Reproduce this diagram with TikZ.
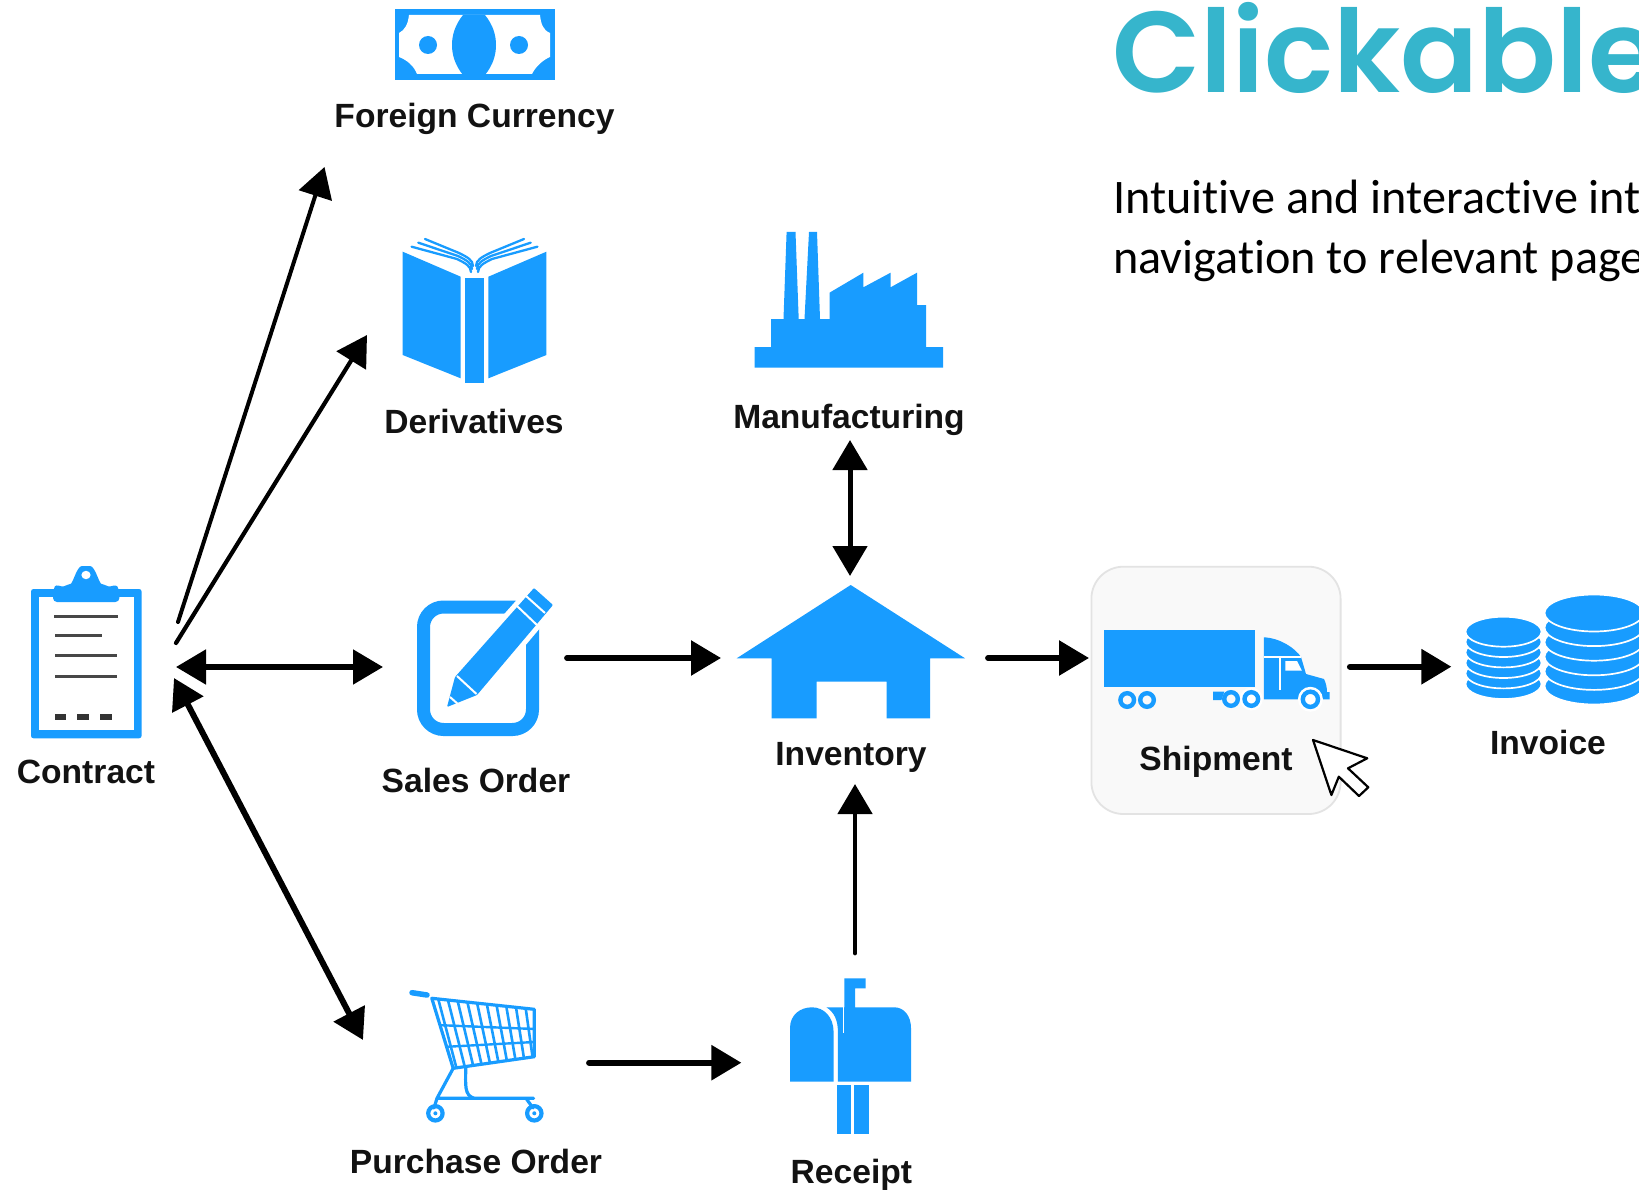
\documentclass[tikz,border=0pt]{standalone}
\usepackage{fontspec}
\usetikzlibrary{arrows.meta}
\setmainfont{Liberation Sans}
\newfontfamily\labfont{Liberation Sans}
\newfontfamily\bodyfont[Ligatures=NoCommon]{Carlito}
\newfontfamily\titlefont{Poppins SemiBold}
\definecolor{iconblue}{HTML}{189CFF}
\definecolor{titleteal}{HTML}{36B5CC}
\tikzset{
  iconfill/.style={fill=iconblue,draw=none},
  whitefill/.style={fill=white,draw=none},
  iconline/.style={draw=iconblue,line cap=round,line join=round},
  whiteline/.style={draw=white,line cap=butt},
  labeltext/.style={anchor=base,inner sep=0pt,text=black!93,font=\labfont\bfseries\fontsize{33.6}{33.6}\selectfont},
  bodytext/.style={anchor=base west,inner sep=0pt,text=black,font=\bodyfont\fontsize{48.2}{48.2}\selectfont},
  flow/.style={draw=black,line width=#1,line cap=round,-{Triangle[length=30pt,width=34pt]}},
  flow/.default=5pt,
  twoway/.style={draw=black,line width=#1,{Triangle[length=30pt,width=34pt]}-{Triangle[length=30pt,width=34pt]}},
  twoway/.default=5pt,
  coinlayer/.style={fill=iconblue,draw=white,line width=1.7pt},
}
\begin{document}
\begin{tikzpicture}[x=1pt,y=-1pt]
\useasboundingbox (0,0) rectangle (1639,1193);
\fill[white] (0,0) rectangle (1639,1193);
\begin{scope}
\clip (0,0) rectangle (1639,1193);

% title and text
\node[anchor=base west,inner sep=0pt,text=titleteal,font=\titlefont\fontsize{115}{115}\selectfont] (title) at (1112,93) {Clickable};
\node[bodytext] (bodya) at (1113,214) {Intuitive and interactive int};
\node[bodytext] (bodyb) at (1113,273) {navigation to relevant page};

% shipment highlight box
\draw[fill=black!2.5,draw=black!11,line width=1.8pt,rounded corners=32pt] (1091.4,566.7) rectangle (1340.6,814);

% --- contract clipboard
\fill[iconfill,rounded corners=2.5pt] (31,589) rectangle (141.6,738.3);
\fill[whitefill] (39,597) rectangle (134,730);
\fill[iconfill,rounded corners=4pt] (53,602) -- (53,590) .. controls (56,584) and (62,587) .. (67,585) .. controls (73,583) and (77,566) .. (86,566) .. controls (95,566) and (99,583) .. (105,585) .. controls (110,587) and (116,584) .. (119.4,590) -- (119.4,602) -- cycle;
\fill[whitefill] (86,575) ellipse [x radius=4.6, y radius=4.2];
\foreach \ya/\xa/\xb in {616/54/118,635/55/102,655/55/117,676/55/117}{
  \draw[draw=black!72,line width=3pt] (\xa,\ya) -- (\xb,\ya);
}
\foreach \xa/\xb in {55/66,77/89,100/112}{
  \fill[black!80] (\xa,713.5) rectangle (\xb,719.5);
}
\node[labeltext] (contract) at (86,783) {Contract};

% --- sales order
\draw[draw=iconblue,line width=13pt,rounded corners=20pt] (423.5,607) rectangle (532.5,729.5);
\draw[draw=white,line width=10pt,line join=round,fill=white] (447,707) -- (455,677) -- (534,588) -- (553,605) -- (477,695) -- cycle;
\fill[iconfill,rounded corners=1pt] (447,707) -- (455,677) -- (534,588) -- (553,605) -- (477,695) -- cycle;
\draw[whiteline,line width=2pt] (457,676) -- (476.5,694);
\draw[whiteline,line width=2pt] (450,697) -- (459,705);
\draw[whiteline,line width=2pt] (517,606) -- (538,626);
\draw[whiteline,line width=2pt] (526,596) -- (545,613);
\node[labeltext] (sales) at (476,792.7) {Sales Order};

% --- foreign currency
\fill[iconfill] (395,9.3) rectangle (554.5,80);
\fill[whitefill] (409,15) -- (463,15) -- (485,15) -- (540,15) .. controls (541,24) and (543,30) .. (550,33) -- (550,57) .. controls (543,60) and (536,66) .. (532,74) -- (417,74) .. controls (414,66) and (407,60) .. (399,57) -- (399,33) .. controls (405,30) and (408,24) .. (409,15) -- cycle;
\fill[iconfill] (463,15) .. controls (455,25) and (452,35) .. (452,45) .. controls (452,55) and (455,65) .. (463,75) -- (485,75) .. controls (493,65) and (496,55) .. (496,45) .. controls (496,35) and (493,25) .. (485,15) -- cycle;
\fill[iconfill] (428,45) ellipse [x radius=9, y radius=9];
\fill[iconfill] (519,45) ellipse [x radius=9, y radius=9];
\node[labeltext] (foreign) at (474.5,128) {Foreign Currency};

% --- derivatives book
\fill[iconfill] (402.7,251.7) -- (460.7,276.7) -- (460.7,378.3) -- (402.7,355) -- cycle;
\fill[iconfill] (465,278) rectangle (484,383);
\fill[iconfill] (488.4,276.7) -- (546.4,251.7) -- (546.4,355) -- (488.4,378.3) -- cycle;
\foreach \xs/\ys/\xe/\ye in {411.6/246.7/471/272,418.3/242.7/472/269,425/239/473/266}{
  \draw[iconline,line width=2.3pt] (\xs,\ys) -- ({\xe-14},{\ye-13}) .. controls ({\xe-6},{\ye-9}) and (\xe,{\ye-6}) .. (\xe,\ye);
}
\foreach \xs/\ys/\xe/\ye in {537.4/246.7/478/272,530.7/242.7/477/269,524/239/476/266}{
  \draw[iconline,line width=2.3pt] (\xs,\ys) -- ({\xe+14},{\ye-13}) .. controls ({\xe+6},{\ye-9}) and (\xe,{\ye-6}) .. (\xe,\ye);
}
\node[labeltext] (deriv) at (474,433) {Derivatives};

% --- manufacturing factory
\fill[iconfill] (754.5,347) -- (771,347) -- (771,319) -- (783.5,319) -- (786.6,232) -- (795.5,232) -- (798.7,319) -- (804.5,319) -- (809,232) -- (817,232) -- (820,319) -- (829.5,319) -- (829.5,292.7) -- (863.4,272.7) -- (863.4,287.3) -- (890.6,272.7) -- (890.6,287.3) -- (917,272.7) -- (917,305) -- (926,305) -- (926,347) -- (943,347) -- (943,367.7) -- (754.5,367.7) -- cycle;
\node[labeltext] (manu) at (849,428) {Manufacturing};

% --- inventory house
\fill[iconfill] (850.7,585) -- (965,658.3) -- (930,658.3) -- (930,718.3) -- (886.7,718.3) -- (886.7,681.7) -- (816.7,681.7) -- (816.7,718.3) -- (771.7,718.3) -- (771.7,658.3) -- (736.7,658.3) -- cycle;
\node[labeltext] (inv) at (851,765) {Inventory};

% --- shipment truck
\fill[iconfill] (1103.6,630) rectangle (1255,687.3);
\fill[iconfill] (1263.8,637.3) .. controls (1280,638) and (1295,648) .. (1301,657) -- (1306,674) -- (1324,679) .. controls (1326,683) and (1327,688) .. (1327,692) -- (1329.6,692) -- (1329.6,699.3) -- (1263.8,699.3) -- cycle;
\draw[whiteline,line width=1.8pt] (1263.8,657.3) -- (1301,657.3);
\draw[whiteline,line width=1.8pt] (1279.7,657.3) -- (1279.7,690);
\fill[whitefill] (1285.3,661) -- (1297,661) -- (1301.9,670.7) -- (1285.3,670.7) -- cycle;
\fill[iconfill] (1213,691.7) -- (1224.3,691.7) -- (1221.4,700) -- (1213,700) -- cycle;
\fill[whitefill] (1310.4,699.3) circle [radius=12.5];
\fill[whitefill] (1251.3,699) circle [radius=11.5];
\foreach \cx/\cy/\rr in {1310.4/699.3/7.6,1231/699/6.8,1251.3/699/6.8,1127.2/700/6.8,1147/700/6.8}{
  \draw[draw=iconblue,line width=4.4pt] (\cx,\cy) circle [radius=\rr];
}
\node[labeltext] (ship) at (1216,770) {Shipment};

% --- invoice coins
\foreach \cy in {684,673.4,663,652.4,642,631.7}{
  \draw[coinlayer] (1503.5,\cy) ellipse [x radius=38, y radius=15];
}
\foreach \cy in {686,671.4,656.8,642.2,627.6,613}{
  \draw[coinlayer] (1594,\cy) ellipse [x radius=49.5, y radius=18.5];
}
\node[labeltext] (invoice) at (1548,754) {Invoice};

% --- purchase cart
\draw[iconline,line width=5.5pt] (412,992.7) -- (427,995);
\draw[iconline,line width=3.2pt,fill=white] (431.8,998.3) -- (534.3,1009.3) -- (534.3,1056.7) -- (453.2,1068.3) -- cycle;
\begin{scope}
\clip (431.8,998.3) -- (534.3,1009.3) -- (534.3,1056.7) -- (453.2,1068.3) -- cycle;
\foreach \i in {0,...,9}{
  \draw[iconline,line width=2.6pt] ({438.5+\i*9.7},{1000+\i*1}) -- ({457+\i*8.6},1070);
}
\draw[iconline,line width=2.4pt] (436,1025) -- (534.3,1029);
\draw[iconline,line width=2.4pt] (443,1047) -- (534.3,1042);
\end{scope}
\draw[iconline,line width=3.2pt] (453.2,1068.3) -- (437,1098.3) -- (533.6,1098.3);
\draw[iconline,line width=3.2pt] (465.7,1068) .. controls (465.7,1085) and (464,1095) .. (474,1098.3);
\draw[iconline,line width=3.2pt] (437,1098.3) -- (434,1108);
\draw[iconline,line width=3.2pt] (526,1098.3) -- (533,1108);
\draw[iconline,line width=4.2pt] (435.4,1113.3) circle [radius=7.2];
\draw[iconline,line width=4.2pt] (534.3,1113.3) circle [radius=7.2];
\fill[iconblue] (435.4,1113.3) circle [radius=2];
\fill[iconblue] (534.3,1113.3) circle [radius=2];
\node[labeltext] (purchase) at (476,1173) {Purchase Order};

% --- receipt mailbox
\fill[iconfill] (790,1081.7) -- (790,1028) .. controls (790,1015) and (800,1007.3) .. (812,1007.3) .. controls (824,1007.3) and (833.6,1017) .. (833.6,1032) -- (833.6,1081.7) -- cycle;
\fill[iconfill] (826.4,1007.3) -- (844.3,1007.3) -- (844.3,978.3) -- (865.7,978.3) -- (865.7,988.3) -- (855,988.3) -- (855,1007.3) -- (894.3,1007.3) .. controls (904,1007.3) and (911,1016) .. (911,1028) -- (911,1081.7) -- (837.9,1081.7) -- (837.9,1031.7) .. controls (837.9,1020) and (834,1012) .. (826.4,1007.3) -- cycle;
\draw[whiteline,line width=1.5pt] (843.6,1007.3) -- (843.6,1033);
\fill[iconfill] (837.1,1085) rectangle (851.4,1134);
\fill[iconfill] (854.3,1085) rectangle (868.6,1134);
\node[labeltext] (receipt) at (851.4,1183) {Receipt};

% --- connector ends
\coordinate (cFa) at (178,622);
\coordinate (cFb) at (324.5,167);
\coordinate (cDa) at (176,643);
\coordinate (cDb) at (367,335);
\coordinate (cSa) at (176,667);
\coordinate (cSb) at (383,667);
\coordinate (cPa) at (174,678);
\coordinate (cPb) at (363,1040);
\coordinate (sIa) at (567,658);
\coordinate (sIb) at (721,658);
\coordinate (iSa) at (988,658);
\coordinate (iSb) at (1089,658);
\coordinate (sVa) at (1350,666.7);
\coordinate (sVb) at (1451.4,666.7);
\coordinate (mIa) at (850,440);
\coordinate (mIb) at (850,576);
\coordinate (rIa) at (855,953);
\coordinate (rIb) at (855,784);
\coordinate (pRa) at (589,1062.7);
\coordinate (pRb) at (741.4,1062.7);

% --- connectors
\draw[flow=4pt] (cFa) -- (cFb);
\draw[flow=4.2pt] (cDa) -- (cDb);
\draw[twoway=5.2pt] (cSa) -- (cSb);
\draw[twoway=6pt] (cPa) -- (cPb);
\draw[flow=5.8pt] (sIa) -- (sIb);
\draw[flow=5.8pt] (iSa) -- (iSb);
\draw[flow=6.2pt] (sVa) -- (sVb);
\draw[twoway=5pt] (mIa) -- (mIb);
\draw[flow=4.8pt] (rIa) -- (rIb);
\draw[flow=5.8pt] (pRa) -- (pRb);

% --- pointer
\draw[fill=white,draw=black,line width=2.2pt,line join=round] (1313,740) -- (1367.2,758.3) -- (1348,768.3) -- (1368.3,787.3) -- (1359,796) -- (1338.8,776.7) -- (1331.4,795) -- cycle;
\end{scope}
\end{tikzpicture}
\end{document}
